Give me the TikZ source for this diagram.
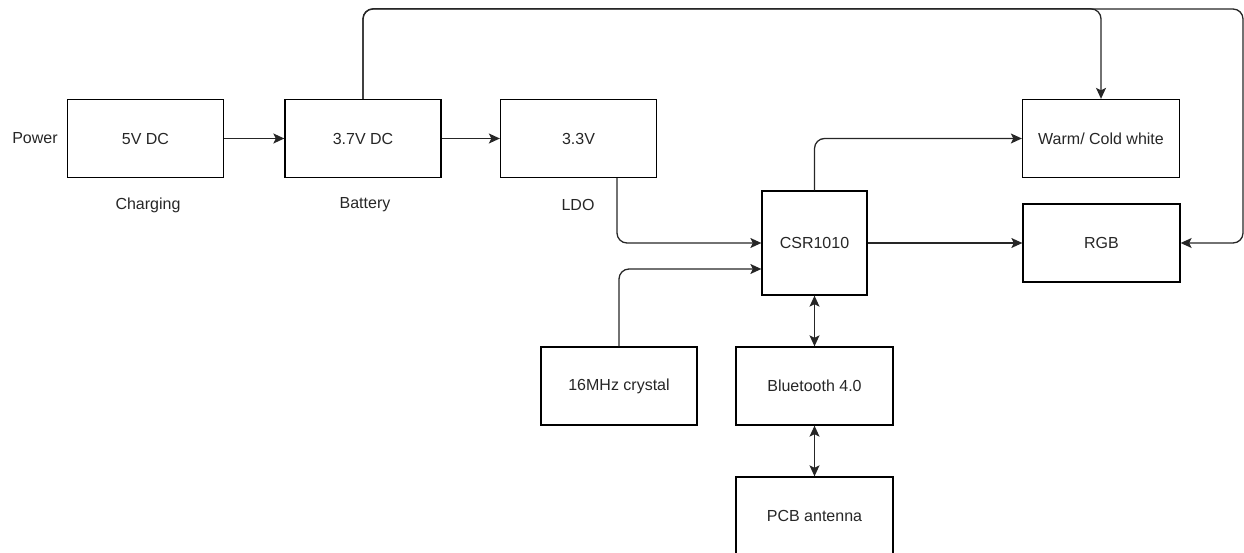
\documentclass[tikz,border=0pt]{standalone}
\usepackage{fontspec}
\setmainfont{Liberation Sans}
\usetikzlibrary{arrows.meta}

\begin{document}
\begin{tikzpicture}[x=1pt, y=-1pt,
    every node/.style={font=\fontsize{16}{19}\selectfont, text=black!85},
    block/.style={draw, line width=1.3pt, minimum width=156pt, minimum height=78pt, inner sep=0pt},
    wire/.style={line width=1.3pt, draw=black!85, rounded corners=10pt},
    tip/.style={-{Stealth[length=11pt, width=10pt, inset=2.5pt]}},
    both/.style={{Stealth[length=11pt, width=10pt, inset=2.5pt]}-{Stealth[length=11pt, width=10pt, inset=2.5pt]}}]
    \useasboundingbox (0,0) rectangle (1244,553);

    % First, locate each of the nodes and name them
        \node[block] (charger) at (145.5, 138.5) {5V DC};
        \node[block] (battery) at (363, 138.5) {3.7V DC};
        \node[block] (ldo) at (578.5, 138.5) {3.3V};
        \node[block, minimum width=105pt, minimum height=104pt] (csr) at (814.5, 243) {CSR1010};
        \node[block, minimum width=157pt] (warm) at (1101, 138.5) {Warm/ Cold white};
        \node[block, minimum width=157pt] (rgb) at (1101.5, 243) {RGB};
        \node[block] (crystal) at (619, 386) {16MHz crystal};
        \node[block, minimum width=157pt] (bluetooth) at (814.5, 386) {Bluetooth 4.0};
        \node[block, minimum width=157pt] (antenna) at (814.5, 516) {PCB antenna};

    % The texts beside the boxes
        \node (power) at (35, 138.5) {Power};
        \node (charging) at (148, 205) {Charging};
        \node (batterytext) at (365, 205) {Battery};
        \node (ldotext) at (578, 205) {LDO};
        \coordinate (railend) at (1243, 9);

    % Now draw the lines:
        \draw [wire, tip] (charger) -- (battery);
        \draw [wire, tip] (battery) -- (ldo);
        \draw [wire, tip] (battery.north) -- ++(0,-90) -| (warm.north);
        \draw [wire, tip] (battery.north) |- (railend) |- (rgb.east);
        \draw [wire, tip] ([xshift=38.5pt]ldo.south) |- (csr.west);
        \draw [wire, tip] (crystal.north) |- ([yshift=-26pt]csr.west);
        \draw [wire, tip] (csr.north) |- (warm.west);
        \draw [wire, tip] (csr) -- (rgb);
        \draw [wire, both] (csr) -- (bluetooth);
        \draw [wire, both] (bluetooth) -- (antenna);
    \end{tikzpicture}
\end{document}
